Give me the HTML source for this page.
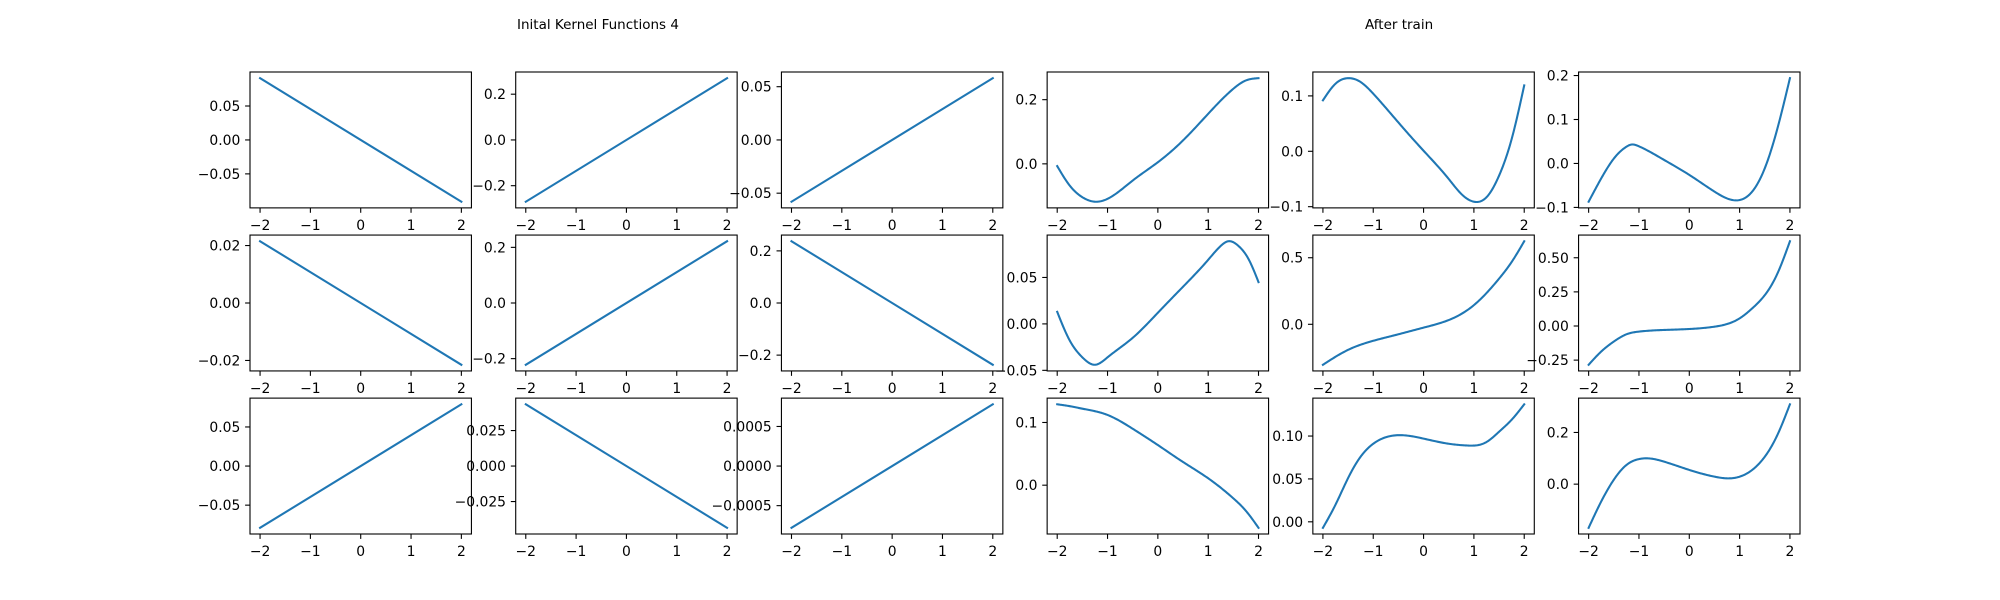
<!DOCTYPE html>
<html><head><meta charset="utf-8"><style>
html,body{margin:0;padding:0;background:#fff}
svg{display:block}
text{font-family:"DejaVu Sans","Liberation Sans",sans-serif;fill:#000}
</style></head><body>
<svg id="fig" width="2000" height="600" xmlns="http://www.w3.org/2000/svg">
<text x="517" y="29" font-size="13.5">Inital Kernel Functions 4</text>
<text x="1365" y="29" font-size="13.5">After train</text>
</svg>
<script>
// x sample points for each panel (row-major, 3 rows x 6 cols)
const xs0 = [-2, 2];
const xs03 = [-2,-1.75,-1.5,-1.25,-1,-0.5,0,0.5,1,1.5,1.75,2];
const ys03 = [-0.007,-0.068,-0.104,-0.118,-0.109,-0.052,0.005,0.073,0.156,0.234,0.26,0.267];
const xs04 = [-2,-1.75,-1.5,-1.25,-1,-0.5,0,0.5,0.75,1,1.25,1.5,1.75,2];
const ys04 = [0.092,0.122,0.132,0.125,0.104,0.052,0.001,-0.050,-0.077,-0.091,-0.083,-0.044,0.022,0.119];
const xs05 = [-2,-1.75,-1.5,-1.25,-1.15,-1,-0.5,0,0.5,0.85,1.25,1.5,1.75,2];
const ys05 = [-0.087,-0.034,0.011,0.038,0.043,0.039,0.008,-0.026,-0.064,-0.083,-0.064,-0.011,0.079,0.194];
const xs13 = [-2,-1.75,-1.5,-1.25,-1,-0.5,0,0.5,1,1.25,1.4,1.6,1.8,2];
const ys13 = [0.013,-0.018,-0.036,-0.044,-0.036,-0.015,0.012,0.040,0.069,0.084,0.089,0.084,0.070,0.045];
const xs14 = [-2,-1.5,-1,-0.5,0,0.5,1,1.5,1.75,2];
const ys14 = [-0.304,-0.192,-0.124,-0.075,-0.025,0.032,0.144,0.343,0.468,0.624];
const xs15 = [-2,-1.75,-1.5,-1.25,-1,-0.5,0,0.5,1,1.25,1.5,1.75,2];
const ys15 = [-0.284,-0.187,-0.114,-0.061,-0.041,-0.029,-0.022,-0.005,0.056,0.129,0.226,0.383,0.621];
const xs23 = [-2,-1.75,-1.5,-1.25,-1,-0.5,0,0.5,1,1.5,1.75,2];
const ys23 = [0.129,0.126,0.122,0.118,0.112,0.090,0.064,0.037,0.011,-0.021,-0.041,-0.068];
const xs24 = [-2,-1.75,-1.5,-1.25,-1,-0.5,0,0.5,0.85,1.25,1.5,1.75,2];
const ys24 = [-0.007,0.020,0.051,0.076,0.091,0.101,0.097,0.091,0.089,0.093,0.105,0.119,0.137];
const xs25 = [-2,-1.75,-1.5,-1.25,-1,-0.85,-0.5,0,0.5,0.85,1.25,1.5,1.75,2];
const ys25 = [-0.169,-0.067,0.017,0.074,0.097,0.100,0.087,0.055,0.029,0.023,0.055,0.106,0.190,0.309];
// linear panel endpoint values
const ys00 = [0.091,-0.091];
const ys01 = [-0.27,0.27];
const ys02 = [-0.058,0.058];
const ys10 = [0.0215,-0.0215];
const ys11 = [-0.222,0.222];
const ys12 = [0.237,-0.237];
const ys20 = [-0.079,0.079];
const ys21 = [0.0435,-0.0435];
const ys22 = [-0.00078,0.00078];
// y tick values and labels
const yt = [
 [[-0.05,0,0.05],["−0.05","0.00","0.05"]],
 [[-0.2,0,0.2],["−0.2","0.0","0.2"]],
 [[-0.05,0,0.05],["−0.05","0.00","0.05"]],
 [[0,0.2],["0.0","0.2"]],
 [[-0.1,0,0.1],["−0.1","0.0","0.1"]],
 [[-0.1,0,0.1,0.2],["−0.1","0.0","0.1","0.2"]],
 [[-0.02,0,0.02],["−0.02","0.00","0.02"]],
 [[-0.2,0,0.2],["−0.2","0.0","0.2"]],
 [[-0.2,0,0.2],["−0.2","0.0","0.2"]],
 [[-0.05,0,0.05],["−0.05","0.00","0.05"]],
 [[0,0.5],["0.0","0.5"]],
 [[-0.25,0,0.25,0.5],["−0.25","0.00","0.25","0.50"]],
 [[-0.05,0,0.05],["−0.05","0.00","0.05"]],
 [[-0.025,0,0.025],["−0.025","0.000","0.025"]],
 [[-0.0005,0,0.0005],["−0.0005","0.0000","0.0005"]],
 [[0,0.1],["0.0","0.1"]],
 [[0,0.05,0.1],["0.00","0.05","0.10"]],
 [[0,0.2],["0.0","0.2"]]
];
const xTicks = [-2,-1,0,1,2];
const xTickLabels = ["−2","−1","0","1","2"];

const series = [
 [xs0,ys00],[xs0,ys01],[xs0,ys02],[xs03,ys03],[xs04,ys04],[xs05,ys05],
 [xs0,ys10],[xs0,ys11],[xs0,ys12],[xs13,ys13],[xs14,ys14],[xs15,ys15],
 [xs0,ys20],[xs0,ys21],[xs0,ys22],[xs23,ys23],[xs24,ys24],[xs25,ys25]
];

const NS="http://www.w3.org/2000/svg";
const svg=document.getElementById('fig');
function mk(tag,attrs,parent){const e=document.createElementNS(NS,tag);for(const k in attrs)e.setAttribute(k,attrs[k]);(parent||svg).appendChild(e);return e;}
const L=250,R=1800,T=72,B=534;
const W=(R-L)/(6+5*0.2), H=(B-T)/(3+2*0.2);
function spline(xs,ys){
  const n=xs.length;
  if(n===2)return [[xs[0],ys[0]],[xs[1],ys[1]]];
  const h=[],al=[],l=[1],mu=[0],z=[0],c=new Array(n).fill(0),b=[],d=[];
  for(let i=0;i<n-1;i++)h.push(xs[i+1]-xs[i]);
  for(let i=1;i<n-1;i++)al[i]=3/h[i]*(ys[i+1]-ys[i])-3/h[i-1]*(ys[i]-ys[i-1]);
  for(let i=1;i<n-1;i++){l[i]=2*(xs[i+1]-xs[i-1])-h[i-1]*mu[i-1];mu[i]=h[i]/l[i];z[i]=(al[i]-h[i-1]*z[i-1])/l[i];}
  for(let j=n-2;j>=0;j--){c[j]=(j>0?z[j]:0)-mu[j]*c[j+1];b[j]=(ys[j+1]-ys[j])/h[j]-h[j]*(c[j+1]+2*c[j])/3;d[j]=(c[j+1]-c[j])/(3*h[j]);}
  const pts=[];
  for(let i=0;i<n-1;i++){for(let k=0;k<20;k++){const t=h[i]*k/20;pts.push([xs[i]+t,ys[i]+b[i]*t+c[i]*t*t+d[i]*t*t*t]);}}
  pts.push([xs[n-1],ys[n-1]]);
  return pts;
}
series.forEach((s,idx)=>{
  const r=Math.floor(idx/6),c=idx%6;
  const x0=L+c*W*1.2,y0=T+r*H*1.2;
  const g=mk('g',{});
  
  
  const [xs,ys]=s;
  let mn=Math.min(...ys),mx=Math.max(...ys);const rg=mx-mn;
  const ylo=mn-0.05*rg,yhi=mx+0.05*rg;
  const sx=v=>x0+(v+2.2)/4.4*W;
  const sy=v=>y0+H-(v-ylo)/(yhi-ylo)*H;
  const pts=spline(xs,ys).map(p=>sx(p[0]).toFixed(2)+','+sy(p[1]).toFixed(2));
  const line=mk('polyline',{points:pts.join(' '),fill:'none',stroke:'#1f77b4','stroke-width':2.08,'stroke-linejoin':'round','stroke-linecap':'square'},g);
  
  
  const fr=mk('rect',{x:x0,y:y0,width:W,height:H,fill:'none',stroke:'#000','stroke-width':1.1},g);
  
  
  xTicks.forEach((t,i)=>{
    const X=sx(t);
    mk('line',{x1:X,x2:X,y1:y0+H,y2:y0+H+4.9,stroke:'#000','stroke-width':1.1},g);
    const tx=mk('text',{x:X,y:y0+H+22,'font-size':13.9,'text-anchor':'middle'},g);
    tx.textContent=xTickLabels[i];
    
    
  });
  const [tv,tl]=yt[idx];
  tv.forEach((t,i)=>{
    const Y=sy(t);
    if(Y<y0-2||Y>y0+H+2)return;
    mk('line',{x1:x0-4.9,x2:x0,y1:Y,y2:Y,stroke:'#000','stroke-width':1.1},g);
    const tx=mk('text',{x:x0-9.7,y:Y+5,'font-size':13.9,'text-anchor':'end'},g);
    tx.textContent=tl[i];
    
    
  });
});
</script>
</body></html>
